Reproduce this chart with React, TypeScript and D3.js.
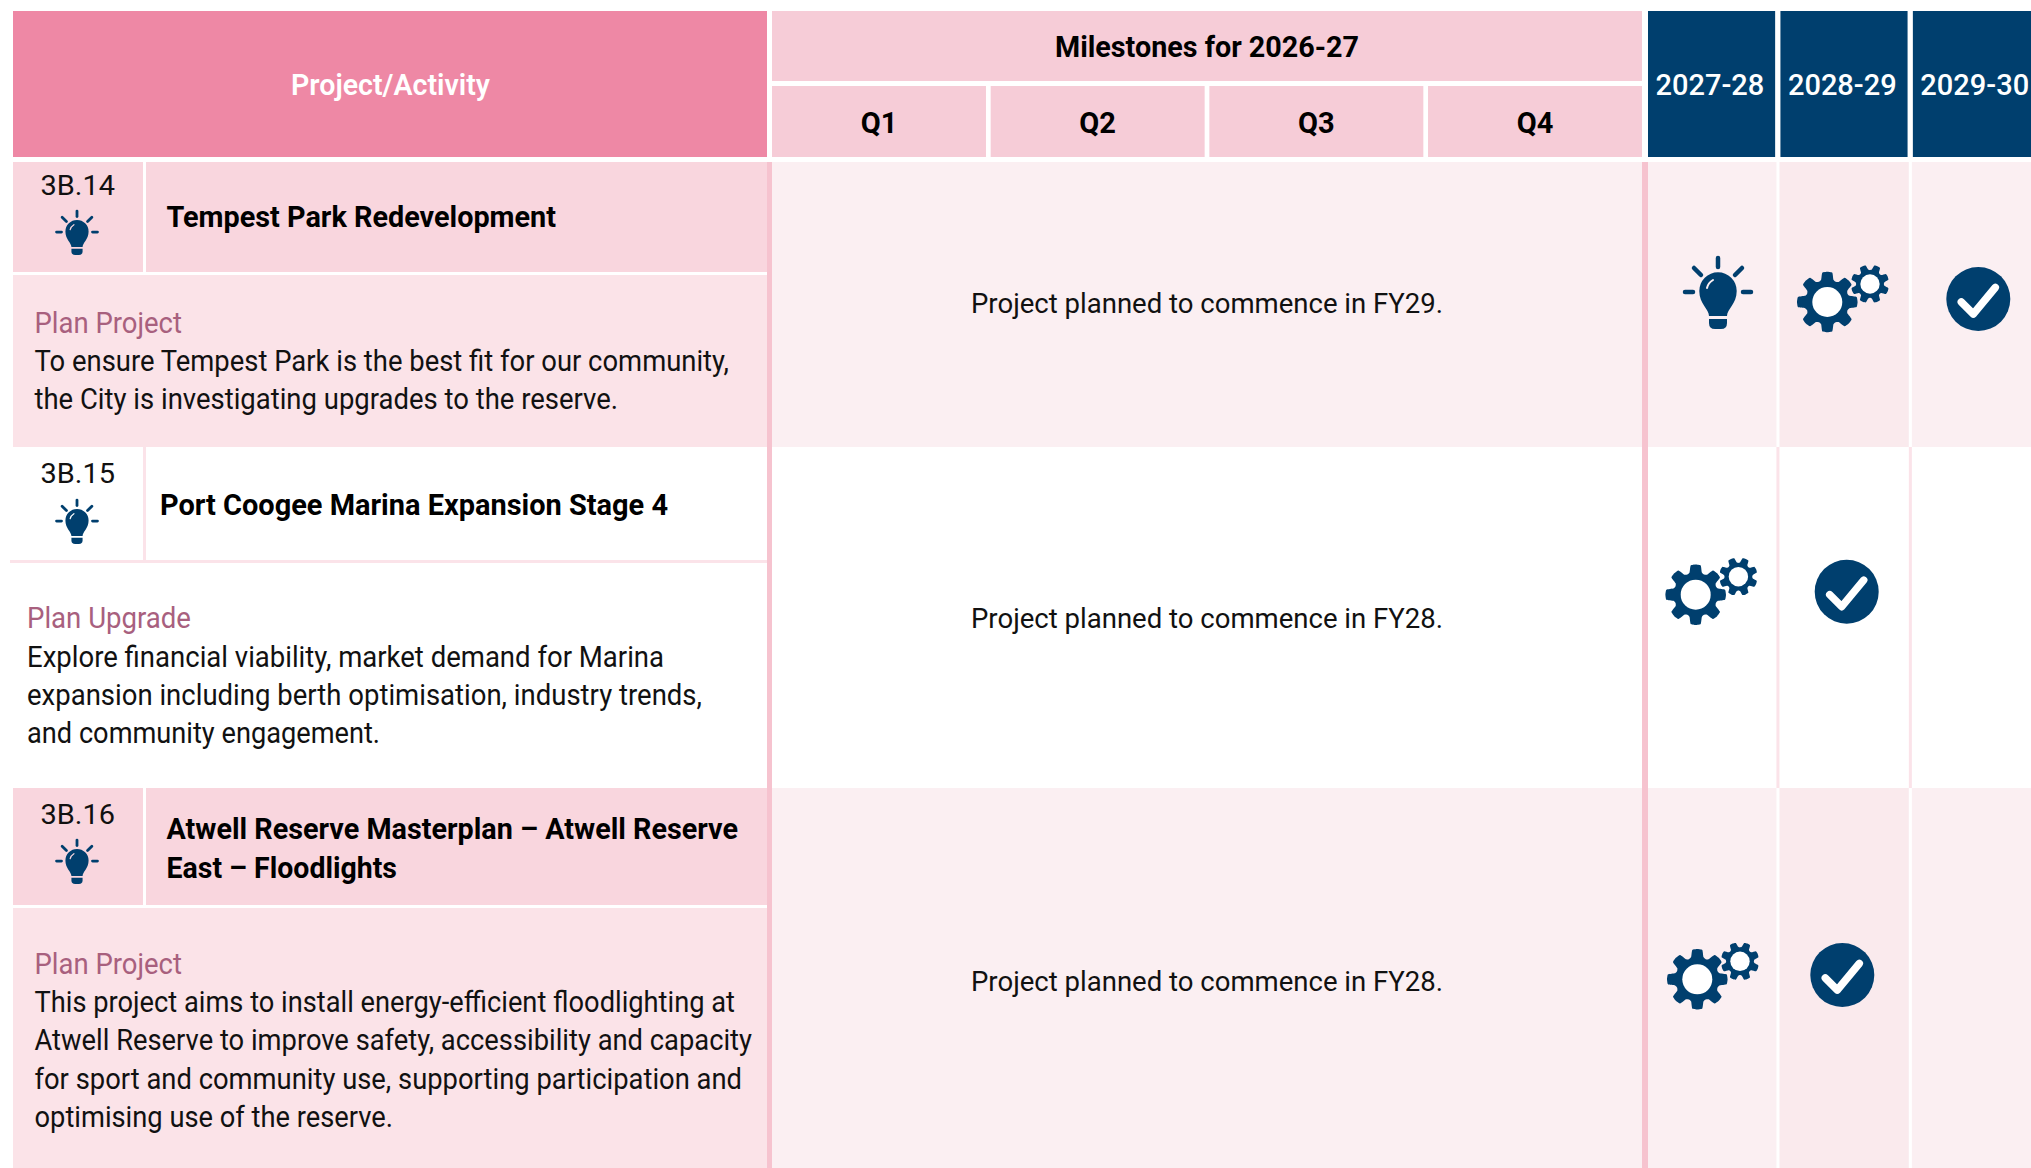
import React, { useRef, useEffect } from 'react';
import * as d3 from 'd3';

// Table content
const quarters = ['Q1', 'Q2', 'Q3', 'Q4'];
const years = ['2027-28', '2028-29', '2029-30'];
const codes = ['3B.14', '3B.15', '3B.16'];
const titles = [
  ['Tempest Park Redevelopment'],
  ['Port Coogee Marina Expansion Stage 4'],
  ['Atwell Reserve Masterplan – Atwell Reserve', 'East – Floodlights'],
];
const actions = ['Plan Project', 'Plan Upgrade', 'Plan Project'];
const descriptions = [
  ['To ensure Tempest Park is the best fit for our community,', 'the City is investigating upgrades to the reserve.'],
  ['Explore financial viability, market demand for Marina', 'expansion including berth optimisation, industry trends,', 'and community engagement.'],
  ['This project aims to install energy-efficient floodlighting at', 'Atwell Reserve to improve safety, accessibility and capacity', 'for sport and community use, supporting participation and', 'optimising use of the reserve.'],
];
const milestones = ['Project planned to commence in FY29.', 'Project planned to commence in FY28.', 'Project planned to commence in FY28.'];
const stages = [
  ['idea', 'plan', 'done'],
  ['plan', 'done', ''],
  ['plan', 'done', ''],
];

// Layout, in page pixels
const W = 2031;
const H = 1168;
const rows = [
  { top: 162, sub: 272, bottom: 447, left: 13, codeY: 195, bulbY: 231.5, titleX: 166.5, titleY: 227, actionX: 34.5, actionY: 333, lineY: 371, midY: 313,
    titleEnd: [556], actionEnd: 182, lineEnd: [729, 618], iconY: [291, 302, 299], iconX: [1718, 1827.3, 1978.3] },
  { top: 447, sub: 560, bottom: 788, left: 10, codeY: 483, bulbY: 520.5, titleX: 160, titleY: 515, actionX: 27, actionY: 628, lineY: 666.5, midY: 628,
    titleEnd: [668], actionEnd: 191, lineEnd: [664, 702, 380], iconY: [594.7, 591.7], iconX: [1695.7, 1846.7] },
  { top: 788, sub: 905, bottom: 1168, left: 13, codeY: 824, bulbY: 860.5, titleX: 166.5, titleY: 839, actionX: 34.5, actionY: 973.5, lineY: 1012, midY: 991,
    titleEnd: [738, 397], actionEnd: 182, lineEnd: [735, 752, 742, 393], iconY: [979.3, 975], iconX: [1697.3, 1842.3] },
];

const NAVY = '#003f6e';
const FONT = 'Roboto, sans-serif';

function App() {
  const svgRef = useRef(null);

  useEffect(() => {
    const svg = d3.select(svgRef.current);
    svg.selectAll('*').remove();

    const qX = d3.scaleBand().domain(quarters).range([772, 1642]).paddingInner(0.0215);
    const yX = d3.scaleBand().domain(years).range([1648, 2040]).paddingInner(0.04);
    const rowBy = d3.scaleOrdinal().domain(codes).range(rows);

    const rect = (x, y, w, h, fill) =>
      svg.append('rect').attr('x', x).attr('y', y).attr('width', w).attr('height', h).attr('fill', fill);

    const text = (str, x, y, size, weight, fill, anchor = 'start', end = null) => {
      const t = svg.append('text')
        .attr('x', x).attr('y', y)
        .attr('font-family', FONT).attr('font-size', size).attr('font-weight', weight)
        .attr('fill', fill).attr('text-anchor', anchor)
        .text(str);
      if (end !== null) t.attr('textLength', end - x).attr('lengthAdjust', 'spacingAndGlyphs');
      return t;
    };

    // Gear outline, one set of points per tooth
    const gear = (R, turn) => {
      const pts = [];
      d3.range(8).forEach((i) => {
        const a = turn + (i * Math.PI) / 4;
        pts.push([a - 0.27, R * 0.76], [a - 0.17, R * 0.98], [a, R], [a + 0.17, R * 0.98], [a + 0.27, R * 0.76], [a + Math.PI / 8, R * 0.72]);
      });
      return d3.lineRadial().curve(d3.curveCardinalClosed.tension(0.55))(pts);
    };

    const drawBulb = (x, y, k, bg) => {
      const g = svg.append('g').attr('transform', `translate(${x},${y}) scale(${k})`);
      g.append('path').attr('fill', NAVY)
        .attr('d', 'M-9 25 C-9 18 -18.7 13 -18.7 0 A18.7 18.7 0 0 1 18.7 0 C18.7 13 9 18 9 25 Z');
      g.append('path').attr('fill', NAVY)
        .attr('d', 'M-9 28 H9 V32 Q9 38 3 38 H-3 Q-9 38 -9 32 Z');
      [[0, -33, 0, -24], [-24, -23, -17, -16], [24, -23, 17, -16], [-33, 1, -25, 1], [33, 1, 25, 1]].forEach(([a, b, c, d]) => {
        g.append('line').attr('x1', a).attr('y1', b).attr('x2', c).attr('y2', d)
          .attr('stroke', NAVY).attr('stroke-width', 4.5).attr('stroke-linecap', 'round');
      });
      g.append('path').attr('d', 'M-11 -3 Q-10 -8 -5 -11').attr('fill', 'none')
        .attr('stroke', bg).attr('stroke-width', 2).attr('stroke-linecap', 'round');
    };

    const drawGears = (x, y, bg) => {
      const g = svg.append('g').attr('transform', `translate(${x},${y})`);
      g.append('path').attr('d', gear(30.3, 0)).attr('fill', NAVY);
      g.append('circle').attr('r', 15).attr('fill', '#fff');
      const s = g.append('g').attr('transform', 'translate(42.7,-18)');
      s.append('path').attr('d', gear(19.2, Math.PI / 8)).attr('fill', NAVY)
        .attr('stroke', bg).attr('stroke-width', 2).style('paint-order', 'stroke');
      s.append('circle').attr('r', 9.7).attr('fill', '#fff');
    };

    const drawCheck = (x, y) => {
      const g = svg.append('g').attr('transform', `translate(${x},${y})`);
      g.append('circle').attr('r', 32).attr('fill', NAVY);
      g.append('path').attr('d', d3.line()([[-17, 3], [-5, 15], [17, -11.5]]))
        .attr('fill', 'none').attr('stroke', '#fff').attr('stroke-width', 7.5)
        .attr('stroke-linecap', 'round').attr('stroke-linejoin', 'round');
    };

    // Header
    rect(13, 11, 754, 146, '#ee88a5');
    text('Project/Activity', 291, 95, 29, 600, '#fff', 'start', 490);
    rect(772, 11, 870, 70, '#f6ccd7');
    text('Milestones for 2026-27', 1055, 57, 29, 700, '#000', 'start', 1359);
    quarters.forEach((q) => {
      rect(qX(q), 86, qX.bandwidth(), 71, '#f6ccd7');
      text(q, qX(q) + qX.bandwidth() / 2, 133, 29, 700, '#000', 'middle');
    });
    years.forEach((y) => {
      rect(yX(y), 11, yX.bandwidth(), 146, NAVY);
      text(y, yX(y) + 7.5, 95, 29, 500, '#fff');
    });

    // Rows
    codes.forEach((code, i) => {
      const r = rowBy(code);
      const shaded = i % 2 === 0;
      const h = r.bottom - r.top;
      if (shaded) {
        rect(13, r.top, 754, r.sub - r.top, '#f9d6de');
        rect(13, r.sub + 3, 754, r.bottom - r.sub - 3, '#fbe3e8');
        rect(772, r.top, 876, h, '#fbeff2');
        rect(1648, r.top, W - 1648, h, '#fbeff2');
        rect(yX(years[1]) - 1, r.top, yX.bandwidth() + 2, h, '#faeaed');
      } else {
        rect(r.left, r.sub, 757, 3, '#fbe3e9');
      }
      rect(143, r.top, 3, r.sub - r.top, shaded ? '#fff' : '#fbe3e9');
      years.slice(1).forEach((y) => {
        rect(yX(y) - 4, r.top, 3, h, shaded ? '#fff' : '#fbe3e9');
      });
      rect(767, r.top, 5, h, '#f6c3cf');
      rect(1642, r.top, 6, h, '#f6c3cf');

      text(code, 40.5, r.codeY, 28, 400, '#111', 'start', 115);
      drawBulb(77, r.bulbY, 0.62, shaded ? '#f9d6de' : '#fff');

      titles[i].forEach((line, j) => {
        text(line, r.titleX, r.titleY + j * 39, 29, 700, '#000', 'start', r.titleEnd[j]);
      });
      text(actions[i], r.actionX, r.actionY, 29, 400, '#a8607e', 'start', r.actionEnd);
      descriptions[i].forEach((line, j) => {
        text(line, r.actionX, r.lineY + j * 38.3, 29, 400, '#111', 'start', r.lineEnd[j]);
      });
      text(milestones[i], 971, r.midY, 28, 400, '#111', 'start', 1443);

      stages[i].forEach((stage, j) => {
        if (!stage) return;
        const x = r.iconX[j];
        const y = r.iconY[j];
        const bg = shaded ? (j === 1 ? '#faeaed' : '#fbeff2') : '#fff';
        if (stage === 'idea') drawBulb(x, y, 1, bg);
        if (stage === 'plan') drawGears(x, y, bg);
        if (stage === 'done') drawCheck(x, y);
      });
    });
  }, []);

  return (
    <svg
      ref={svgRef}
      width={W}
      height={H}
      viewBox={`0 0 ${W} ${H}`}
      style={{ position: 'absolute', left: 0, top: 0, background: '#fff' }}
    />
  );
}

export default App;
